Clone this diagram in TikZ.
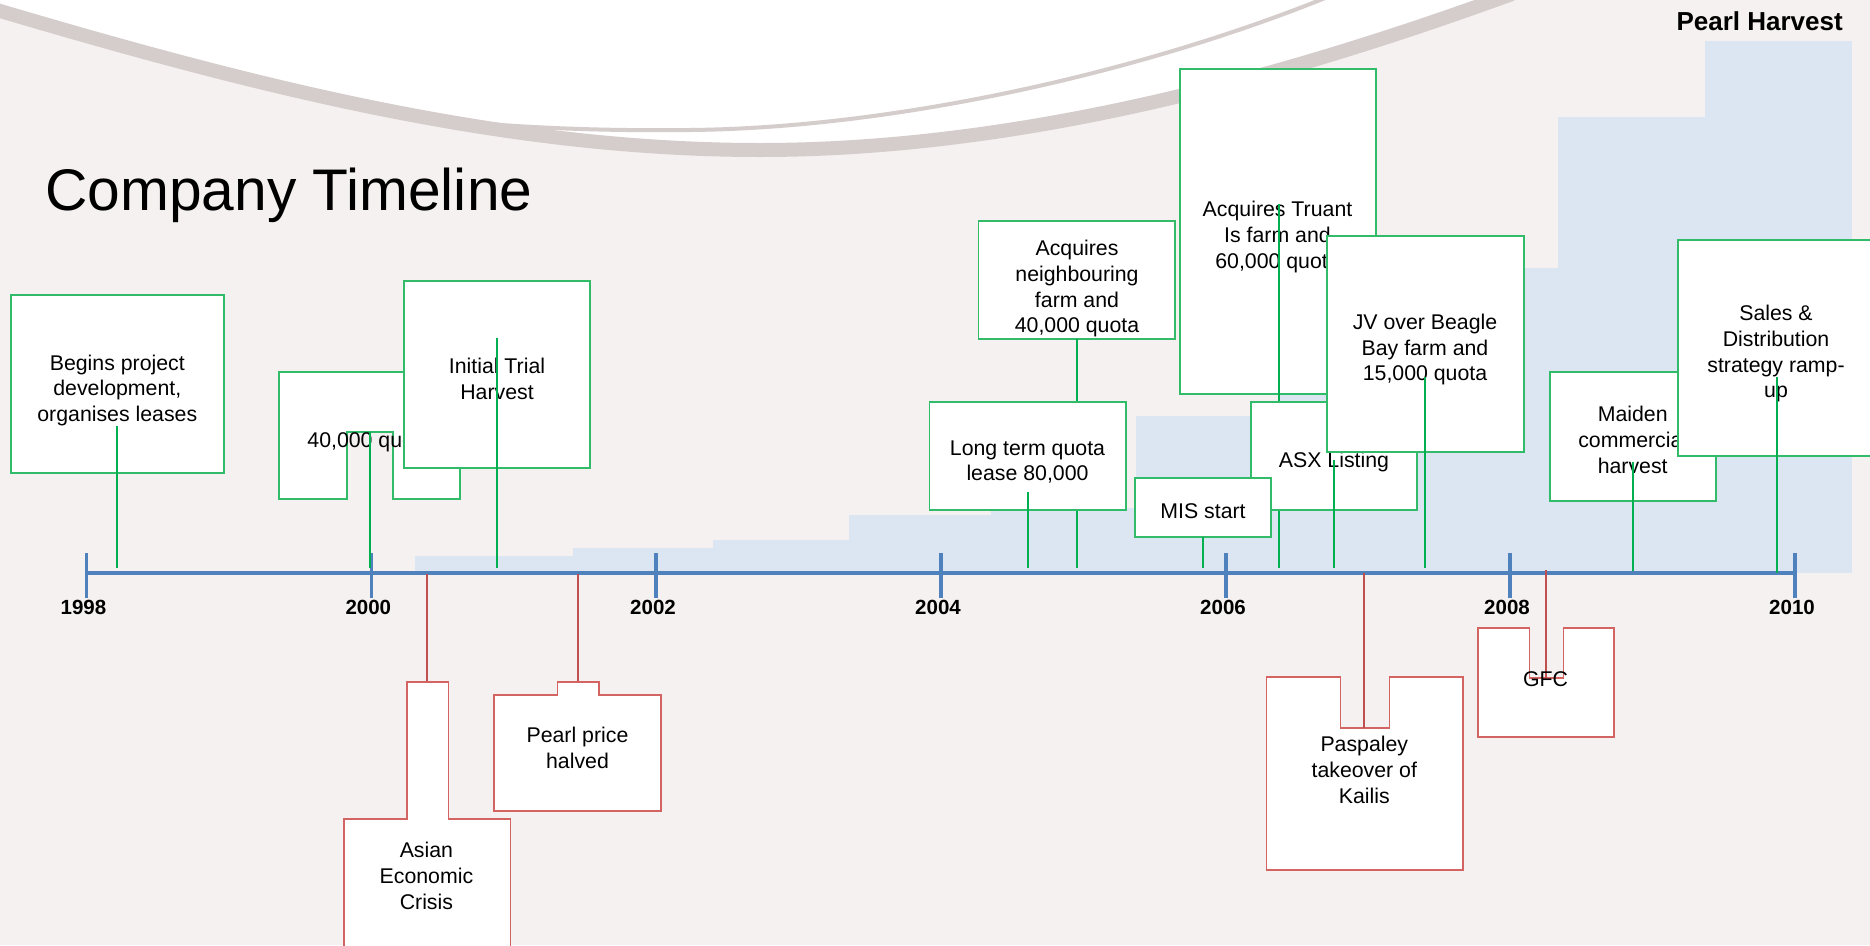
\documentclass[tikz,border=0pt]{standalone}
\usepackage{fontspec}
\setmainfont{Liberation Sans}
\definecolor{bg}{RGB}{245,241,240}
\definecolor{swooshc}{RGB}{212,205,203}
\definecolor{barblue}{RGB}{220,230,242}
\definecolor{axisblue}{RGB}{79,129,189}
\definecolor{gline}{RGB}{0,176,80}
\definecolor{gborder}{RGB}{50,188,105}
\definecolor{rline}{RGB}{192,80,77}
\definecolor{rborder}{RGB}{212,100,98}
\newcommand\mystrut{\rule{0pt}{16.5pt}}
\begin{document}
\begin{tikzpicture}[x=1pt,y=-1pt,
  gbox/.style={draw=gborder,line width=1.8pt,fill=white,inner sep=0pt,outer sep=0pt},
  gshape/.style={draw=gborder,line width=1.8pt,fill=white},
  rshape/.style={draw=rborder,line width=1.8pt,fill=white},
  gstem/.style={draw=gline,line width=2pt},
  rstem/.style={draw=rline,line width=1.8pt},
  txt/.style={font=\fontsize{21.3}{25.6}\selectfont,align=center,inner sep=0pt,anchor=north,text=black},
  yr/.style={font=\bfseries\fontsize{20.5}{24}\selectfont,anchor=base,inner sep=0pt},
  bar/.style={fill=barblue},
  axisline/.style={draw=axisblue,line width=3.7pt},
  yeartick/.style={draw=axisblue,line width=3.5pt},
  swoosh/.style={draw=swooshc}
]
\useasboundingbox (0,0) rectangle (1870,945);
\clip (0,0) rectangle (1870,945);
\fill[bg] (0,0) rectangle (1870,945);

% white swoosh area and swoosh lines
\coordinate (wA) at (-10,8);
\coordinate (wB) at (760,150);
\coordinate (wC) at (1512,-6);
\fill[white] (wA) .. controls (250,85) and (500,150) .. (wB) .. controls (1050,150) and (1330,60) .. (wC) -- (1512,-20) -- (-10,-20) -- cycle;
\draw[swoosh,line width=14pt] (wA) .. controls (250,85) and (500,150) .. (wB) .. controls (1050,150) and (1330,60) .. (wC);
\coordinate (tA) at (430,119);
\coordinate (tB) at (690,130);
\coordinate (tC) at (1335,-6);
\draw[swoosh,line width=4pt] (tA) .. controls (520,128) and (600,131) .. (tB) .. controls (900,128) and (1150,70) .. (tC);

% titles
\node[anchor=base west,inner sep=0pt,font=\fontsize{58.7}{70}\selectfont] (title) at (45,210) {Company Timeline};
\node[anchor=base east,inner sep=0pt,font=\bfseries\fontsize{26}{30}\selectfont] (brand) at (1843,30) {Pearl Harvest};

% bars
\fill[bar] (415,573) rectangle (573,556);
\fill[bar] (573,573) rectangle (713,548);
\fill[bar] (713,573) rectangle (849,540);
\fill[bar] (849,573) rectangle (991,515);
\fill[bar] (991,573) rectangle (1136,508);
\fill[bar] (1136,573) rectangle (1279,416);
\fill[bar] (1279,573) rectangle (1419,330);
\fill[bar] (1419,573) rectangle (1558,268);
\fill[bar] (1558,573) rectangle (1705,117);
\fill[bar] (1705,573) rectangle (1852,41);

% axis
\coordinate (axL) at (86.5,573);
\coordinate (axR) at (1795,573);
\draw[axisline] (axL) -- (axR);
\foreach \x/\y in {86.5/1998,371.3/2000,656/2002,941/2004,1226/2006,1510/2008,1795/2010}{
  \draw[yeartick] (\x,553) -- (\x,598);
  \node[yr] (y\y) at (\x-3,614.5) {\y};
}

% event 1
\node[gbox,minimum width=212.9pt,minimum height=178pt] (b1) at (117.15,384.3) {};
\node[txt] (t1) at (117.3,353.5) {\mystrut Begins project\\development,\\organises leases};
\coordinate (s1a) at (117,426); \coordinate (s1b) at (117,568);
\draw[gstem] (s1a) -- (s1b);

% event 2 (notched)
\draw[gshape] (279,372) -- (460.3,372) -- (460.3,499.3) -- (392.7,499.3) -- (392.7,432.3) -- (347,432.3) -- (347,499.3) -- (279,499.3) -- cycle;
\node[txt] (t2) at (369.6,431) {\mystrut 40,000 quota};
\coordinate (s2a) at (370,432.3); \coordinate (s2b) at (370,568);
\draw[gstem] (s2a) -- (s2b);

% event 3
\node[gbox,minimum width=186.6pt,minimum height=187.3pt] (b3) at (497,374.65) {};
\node[txt] (t3) at (497,356.8) {\mystrut Initial Trial\\Harvest};
\coordinate (s3a) at (497,337.7); \coordinate (s3b) at (497,568);
\draw[gstem] (s3a) -- (s3b);

% event 4
\node[gbox,minimum width=196.8pt,minimum height=118.3pt] (b4) at (1076.9,279.85) {};
\node[txt] (t4) at (1077,239.2) {\mystrut Acquires\\neighbouring\\farm and\\40,000 quota};
\coordinate (s4a) at (1077,339); \coordinate (s4b) at (1077,568);
\draw[gstem] (s4a) -- (s4b);

% event 5
\node[gbox,minimum width=196.8pt,minimum height=107.7pt] (b5) at (1027.9,456.15) {};
\node[txt] (t5) at (1027.5,438.5) {\mystrut Long term quota\\lease 80,000};
\coordinate (s5a) at (1028,492); \coordinate (s5b) at (1028,568);
\draw[gstem] (s5a) -- (s5b);

% event 7 (Truant)
\node[gbox,minimum width=196.6pt,minimum height=324.7pt] (b7) at (1278,231.65) {};
\node[txt] (t7) at (1277.5,200.2) {\mystrut Acquires Truant\\Is farm and\\60,000 quota};
\coordinate (s7a) at (1279,204.3); \coordinate (s7b) at (1279,568);
\draw[gstem] (s7a) -- (s7b);

% event 8 (ASX)
\node[gbox,minimum width=166.3pt,minimum height=107.7pt] (b8) at (1334.15,456.15) {};
\node[txt] (t8) at (1334,451.2) {\mystrut ASX Listing};

% event 9 (JV)
\node[gbox,minimum width=196.4pt,minimum height=216pt] (b9) at (1425.5,344) {};
\node[txt] (t9) at (1425,312.8) {\mystrut JV over Beagle\\Bay farm and\\15,000 quota};
\coordinate (s9a) at (1425,376.7); \coordinate (s9b) at (1425,568);
\draw[gstem] (s9a) -- (s9b);
\coordinate (s8a) at (1334,460); \coordinate (s8b) at (1334,568);
\draw[gstem] (s8a) -- (s8b);

% event 6 (MIS)
\node[gbox,minimum width=136pt,minimum height=59pt] (b6) at (1203,507.2) {};
\node[txt] (t6) at (1203,501.8) {\mystrut MIS start};
\coordinate (s6a) at (1203,536.7); \coordinate (s6b) at (1203,568);
\draw[gstem] (s6a) -- (s6b);

% event 10 (Maiden)
\node[gbox,minimum width=166.6pt,minimum height=129pt] (b10) at (1633,436.5) {};
\node[txt] (t10) at (1632.7,405.2) {\mystrut Maiden\\commercial\\harvest};
\coordinate (s10a) at (1632.7,462.3); \coordinate (s10b) at (1632.7,571);
\draw[gstem] (s10a) -- (s10b);

% event 11 (Sales)
\node[gbox,minimum width=196.3pt,minimum height=216.3pt] (b11) at (1775.85,348.15) {};
\node[txt] (t11) at (1776,304.2) {\mystrut Sales \&\\Distribution\\strategy ramp-\\up};
\coordinate (s11a) at (1776.7,377.3); \coordinate (s11b) at (1776.7,572.7);
\draw[gstem] (s11a) -- (s11b);

% red events
\coordinate (r1a) at (427,574); \coordinate (r1b) at (427,681.7);
\draw[rstem] (r1a) -- (r1b);
\draw[rshape] (406.7,681.7) -- (448.4,681.7) -- (448.4,819) -- (510.4,819) -- (510.4,960) -- (344,960) -- (344,819) -- (406.7,819) -- cycle;
\node[txt] (r1) at (426.4,841.2) {\mystrut Asian\\Economic\\Crisis};

\coordinate (r2a) at (577.8,574); \coordinate (r2b) at (577.8,681.7);
\draw[rstem] (r2a) -- (r2b);
\draw[rshape] (557.5,681.7) -- (599.3,681.7) -- (599.3,695) -- (661.3,695) -- (661.3,810.7) -- (494.3,810.7) -- (494.3,695) -- (557.5,695) -- cycle;
\node[txt] (r2) at (577.5,726.2) {\mystrut Pearl price\\halved};

\draw[rshape] (1266.5,677.3) -- (1340.5,677.3) -- (1340.5,728) -- (1389.4,728) -- (1389.4,677.3) -- (1462.7,677.3) -- (1462.7,870.3) -- (1266.5,870.3) -- cycle;
\coordinate (r3a) at (1364.3,573); \coordinate (r3b) at (1364.3,728);
\draw[rstem] (r3a) -- (r3b);
\node[txt] (r3) at (1364.3,735.2) {\mystrut Paspaley\\takeover of\\Kailis};

\draw[rshape] (1478.2,628.3) -- (1529.5,628.3) -- (1529.5,678) -- (1563.5,678) -- (1563.5,628.3) -- (1614.2,628.3) -- (1614.2,737) -- (1478.2,737) -- cycle;
\coordinate (r4a) at (1545.6,570); \coordinate (r4b) at (1545.6,678);
\draw[rstem] (r4a) -- (r4b);
\node[txt] (r4) at (1545.6,670.2) {\mystrut GFC};
\end{tikzpicture}
\end{document}
